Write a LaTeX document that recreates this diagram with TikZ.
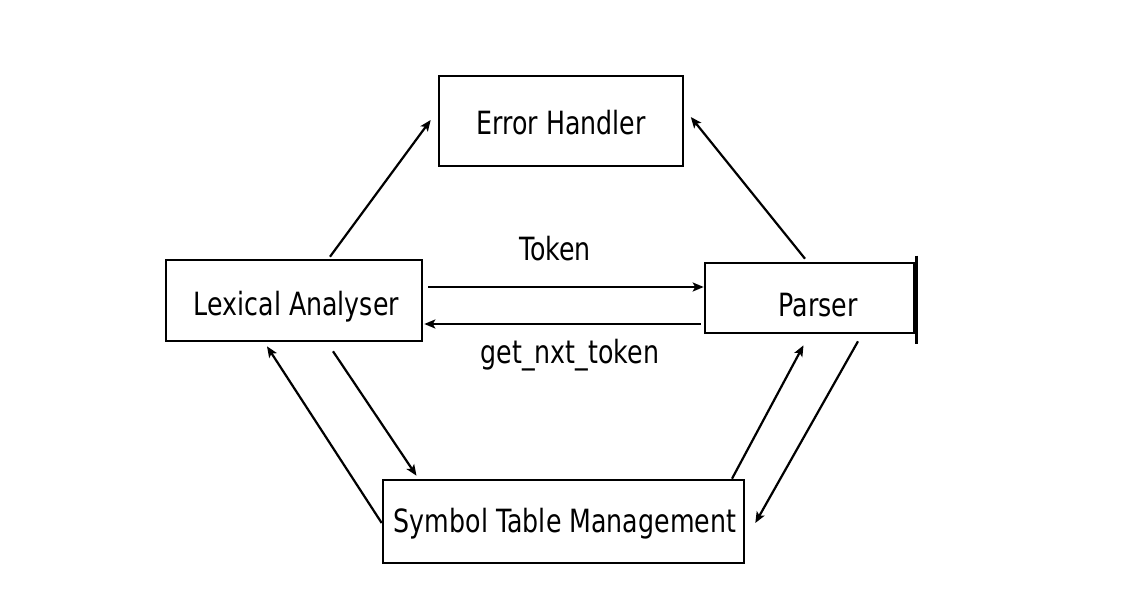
\documentclass[tikz,border=0pt]{standalone}
\usepackage{fontspec}
\setmainfont[FakeStretch=0.79]{DejaVu Sans}
\usetikzlibrary{calc,arrows.meta}
\begin{document}
\begin{tikzpicture}[x=1pt,y=-1pt,
  box/.style={draw,line width=2.6pt,inner xsep=0pt,inner ysep=0pt,text depth=0pt,
    font=\fontsize{32}{38}\selectfont},
  lbl/.style={inner sep=0pt,anchor=base,font=\fontsize{32}{38}\selectfont},
  conn/.style={line width=2.2pt,-{Stealth[length=11pt,width=9pt,inset=2.5pt]}}]
\useasboundingbox (0,0) rectangle (1127,602);
\node[box,minimum width=244pt,minimum height=90pt,text height=26pt] (eh) at (561,121) {Error Handler};
\node[box,minimum width=256pt,minimum height=81pt,text height=29pt] (la) at (294,300.5) {\hspace{5pt}Lexical Analyser};
\node[box,minimum width=209pt,minimum height=70pt,text height=36pt] (p) at (809.5,298) {\hspace{17pt}Parser};
\node[box,minimum width=361pt,minimum height=83pt,text height=21pt] (stm) at (563.5,521.5) {\hspace{3pt}Symbol Table Management};
\draw[line width=3pt] ($(p.north east)+(1.5,-6)$) -- ($(p.south east)+(1.5,10)$);
\node[lbl] (tok) at (555,260) {Token};
\node[lbl] (gnt) at (570,363) {get\_nxt\_token};
\draw[conn] ($(la.north)+(36,-2)$) -- ($(eh.west)+(-7,-1)$);
\draw[conn] ($(p.north)+(-4.5,-3)$) -- ($(eh.east)+(6.5,-4)$);
\draw[conn] ($(la.east)+(5,-13.5)$) -- ($(p.west)+(0,-11)$);
\draw[conn] ($(p.west)+(-3,26)$) -- ($(la.east)+(1,23.5)$);
\draw[conn] ($(stm.west)+(0,1.5)$) -- ($(la.south)+(-27,4)$);
\draw[conn] ($(la.south)+(39,9)$) -- ($(stm.north)+(-147,-3)$);
\draw[conn] ($(stm.north)+(168.5,0)$) -- ($(p.south)+(-6,11)$);
\draw[conn] ($(p.south)+(48.5,7)$) -- ($(stm.east)+(10,1.5)$);
\end{tikzpicture}
\end{document}
